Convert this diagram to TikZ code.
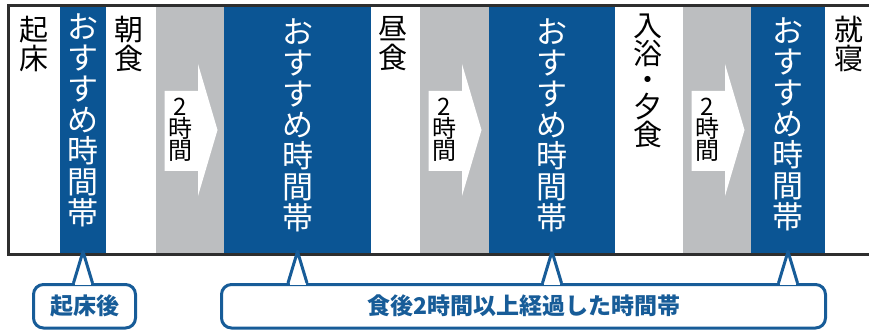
\documentclass[tikz,border=0pt]{standalone}
\usepackage{fontspec}
\newfontfamily\cjk{Noto Sans CJK JP}
\definecolor{mblue}{HTML}{0B5594}
\definecolor{mgray}{HTML}{BCBEC0}
\definecolor{frameclr}{HTML}{2E2E2E}
\definecolor{cblue}{HTML}{175C98}
\tikzset{
  bluecol/.style={fill=mblue},
  graycol/.style={fill=mgray},
  vtext/.style={anchor=north, inner sep=0pt, align=center, font=\cjk\fontsize{29}{29}\selectfont, text=black},
  vwhite/.style={anchor=north, inner sep=0pt, align=center, font=\cjk\fontsize{31}{31}\selectfont, text=white},
  hrs/.style={inner sep=0pt, align=center, font=\cjk\fontsize{24}{22}\selectfont, text=black},
  callbox/.style={draw=cblue, line width=3pt, rounded corners=10pt, inner sep=0pt, text=cblue, font=\cjk\bfseries\fontsize{23}{23}\selectfont},
  ptr/.style={draw=cblue, line width=3pt, line join=round},
}
\begin{document}
\begin{tikzpicture}[x=1pt,y=-1pt]
\useasboundingbox (0,0) rectangle (869,331);
% columns
\fill[bluecol] (60,7) rectangle (106,253);
\fill[graycol] (156,7) rectangle (224,253);
\fill[bluecol] (224,7) rectangle (371,253);
\fill[graycol] (420,7) rectangle (489,253);
\fill[bluecol] (489,7) rectangle (615,253);
\fill[graycol] (683,7) rectangle (751,253);
\fill[bluecol] (751,7) rectangle (825,253);
% frame
\draw[frameclr, line width=3pt] (869,5.5) -- (8.5,5.5) -- (8.5,254.5) -- (869,254.5);
% arrows in gray columns
\foreach \gx/\nm in {156/a1,420/a2,683/a3}{
  \fill[white] (\gx+8.5,91) -- (\gx+42,91) -- (\gx+42,64) -- (\gx+61.5,130) -- (\gx+42,196) -- (\gx+42,171) -- (\gx+8.5,171) -- cycle;
  \node[hrs] (\nm) at (\gx+24.5,130) {2\\時\\間};
}
% column labels
\node[vtext] (t1) at (34,16) {起\\床};
\node[vwhite] (b1) at (83,14) {お\\す\\す\\め\\時\\間\\帯};
\node[vtext] (t2) at (129,16) {朝\\食};
\node[vwhite] (b2) at (297.5,19) {お\\す\\す\\め\\時\\間\\帯};
\node[vtext] (t3) at (393,16) {昼\\食};
\node[vwhite] (b3) at (552,19) {お\\す\\す\\め\\時\\間\\帯};
\node[vtext, font=\cjk\fontsize{29}{26.5}\selectfont] (t4) at (648,14) {入\\浴\\・\\夕\\食};
\node[vwhite] (b4) at (788,18) {お\\す\\す\\め\\時\\間\\帯};
\node[vtext] (t5) at (849,16) {就\\寝};
% callouts
\node[callbox, minimum width=102pt, minimum height=43.5pt] (c1) at (84.5,306.25) {起床後};
\node[callbox, minimum width=604pt, minimum height=43.5pt] (c2) at (523.5,306.25) {食後2時間以上経過した時間帯};
\foreach \px/\bx in {83/c1,297.5/c2,552/c2,788/c2}{
  \coordinate (tip) at (\px,251.5);
  \fill[white] ([xshift=-9pt]\bx.north -| tip) -- (tip) -- ([xshift=9pt]\bx.north -| tip) -- cycle;
  \fill[white] ([xshift=-8pt,yshift=2pt]\bx.north -| tip) rectangle ([xshift=8pt,yshift=-2pt]\bx.north -| tip);
  \draw[ptr] ([xshift=-9.5pt]\bx.north -| tip) -- (tip) -- ([xshift=9.5pt]\bx.north -| tip);
}
\end{tikzpicture}
\end{document}
